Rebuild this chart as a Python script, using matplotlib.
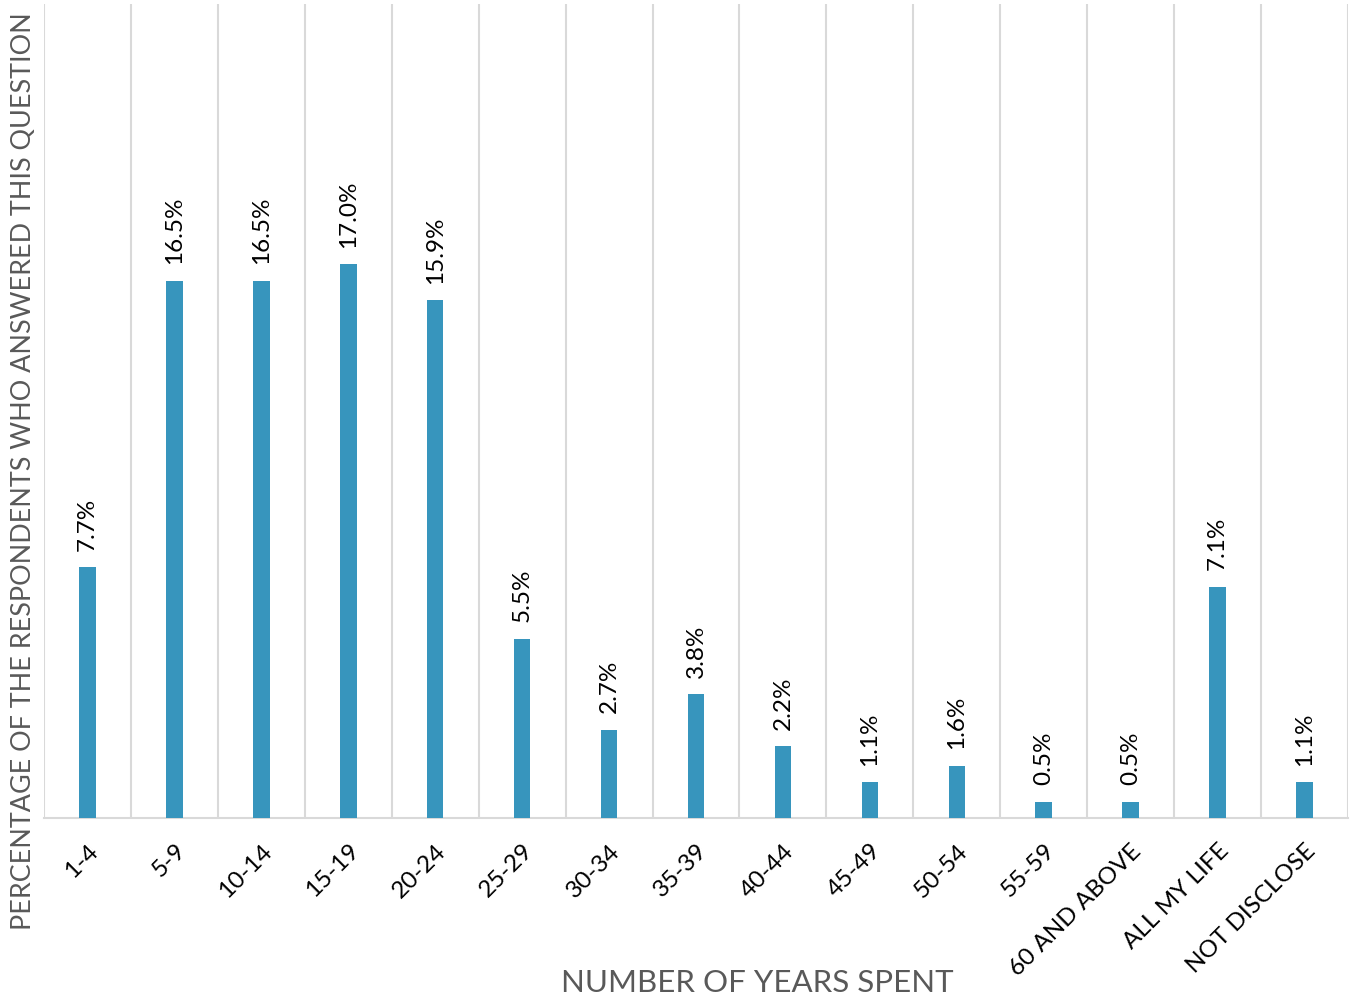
import matplotlib.pyplot as plt
import numpy as np

# Data
categories = ["1-4", "5-9", "10-14", "15-19", "20-24", "25-29", "30-34", "35-39",
              "40-44", "45-49", "50-54", "55-59", "60 AND ABOVE", "ALL MY LIFE", "NOT DISCLOSE"]
percentages = [7.7, 16.5, 16.5, 17.0, 15.9, 5.5, 2.7, 3.8, 2.2, 1.1, 1.6, 0.5, 0.5, 7.1, 1.1]

bar_color = "#3795BD"
grid_color = "#D9D9D9"
title_color = "#595959"

plt.rcParams["font.family"] = ["Lato", "DejaVu Sans"]

fig = plt.figure(figsize=(13.5, 9.98), dpi=100)
ax = fig.add_axes([44 / 1350, 1 - 818 / 998, (1348 - 44) / 1350, (818 - 4) / 998])

x = np.arange(len(categories))
ax.bar(x, percentages, width=0.19, color=bar_color, zorder=3)

# Data labels
for xi, v in zip(x, percentages):
    ax.annotate(f"{v:.1f}%", (xi, v), xytext=(0, 12), textcoords="offset points",
                rotation=90, ha="center", va="bottom", fontsize=17.5, color="black")

ax.set_xlim(-0.5, len(categories) - 0.5)
ax.set_ylim(0, 25)

# Vertical gridlines at category boundaries
for b in np.arange(-0.5, len(categories), 1.0):
    ax.axvline(b, color=grid_color, linewidth=1.5, zorder=1)

for s in ["top", "right", "left"]:
    ax.spines[s].set_visible(False)
ax.spines["bottom"].set_color(grid_color)
ax.spines["bottom"].set_linewidth(1.5)

ax.set_yticks([])
ax.set_xticks(x)
ax.set_xticklabels(categories, rotation=45, ha="right", rotation_mode="anchor", fontsize=17.5)
ax.tick_params(axis="x", length=0, pad=16)

# Axis titles
fig.text(757 / 1350, 1 - 992 / 998, "NUMBER OF YEARS SPENT", fontsize=22.5,
         color=title_color, ha="center", va="baseline")
ax.set_ylabel("PERCENTAGE OF THE RESPONDENTS WHO ANSWERED THIS QUESTION",
              fontsize=19.4, color=title_color)
ax.yaxis.set_label_coords(-0.006, 0.426)

fig.savefig("out.png", dpi=100)
